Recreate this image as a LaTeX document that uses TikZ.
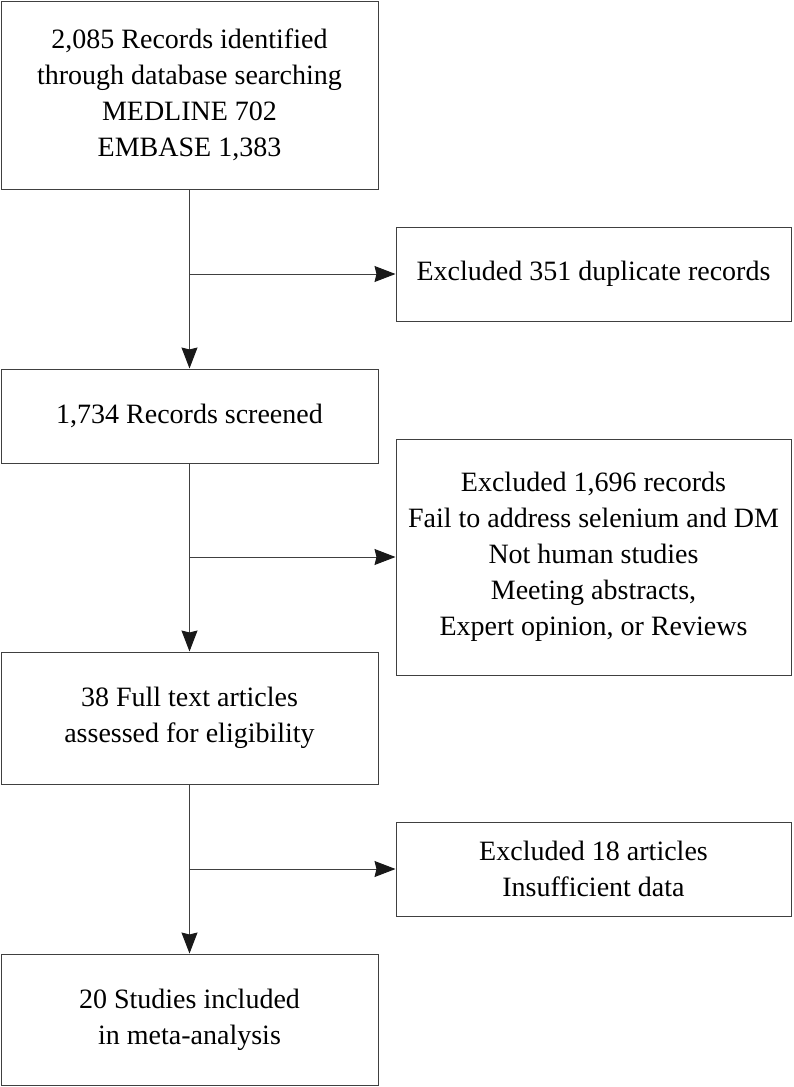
\documentclass[tikz,border=0pt]{standalone}
\usepackage{fontspec}
\setmainfont{Liberation Serif}
\usetikzlibrary{arrows.meta, positioning, calc}
\tikzset{> = { Stealth[length = 21pt, width = 16pt, inset = 2pt, color = black!90] }}

\begin{document}
\begin{tikzpicture}[x = 1pt, y = -1pt, ->, line width = 1pt, draw = black!75,
		box/.style = { draw, rectangle, align = center, inner sep = 0pt, text = black, font = \fontsize{28}{36}\selectfont },
		leftbox/.style = { box, minimum width = 377pt },
		rightbox/.style = { box, minimum width = 395pt }]
		\useasboundingbox (0, 0) rectangle (794, 1087);

		\node [leftbox, minimum height = 188pt] (rec) at (189.5, 95) {2,085 Records identified\\through database searching\\MEDLINE 702\\EMBASE 1,383\rule[-4pt]{0pt}{4pt}};
		\node [leftbox, minimum height = 94pt]  (scr) at (189.5, 416) {1,734 Records screened};
		\node [leftbox, minimum height = 132pt] (full) at (189.5, 718) {38 Full text articles\\assessed for eligibility};
		\node [leftbox, minimum height = 131pt] (inc) at (189.5, 1019.5) {20 Studies included\\in meta-analysis};

		\node [rightbox, minimum height = 94pt]  (dup) at (593.5, 274) {Excluded 351 duplicate records};
		\node [rightbox, minimum height = 236pt] (exc) at (593.5, 557) {Excluded 1,696 records\\Fail to address selenium and DM\\Not human studies\\Meeting abstracts,\\Expert opinion, or Reviews};
		\node [rightbox, minimum height = 94pt]  (art) at (593.5, 869) {Excluded 18 articles\\Insufficient data};

		% branch points on the main line
		\coordinate (j1) at (rec.south |- dup.west);
		\coordinate (j2) at (rec.south |- exc.west);
		\coordinate (j3) at (rec.south |- art.west);

		\draw (rec) -- (scr);
		\draw (scr) -- (full);
		\draw (full) -- (inc);

		\draw (j1) -- (dup);
		\draw (j2) -- (exc);
		\draw (j3) -- (art);
	\end{tikzpicture}
\end{document}
